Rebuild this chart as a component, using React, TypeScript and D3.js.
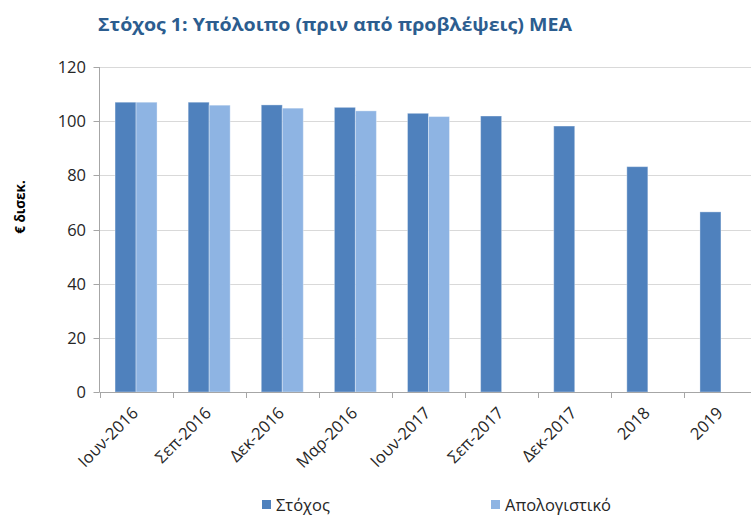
import React from "react";
import * as d3 from "d3";

const categories = ["Ιουν-2016", "Σεπ-2016", "Δεκ-2016", "Μαρ-2016", "Ιουν-2017", "Σεπ-2017", "Δεκ-2017", "2018", "2019"];
const targetValues: (number | null)[] = [107, 107, 106, 105.1, 102.9, 101.9, 98.2, 83.2, 66.5];
const actualValues: (number | null)[] = [107, 105.9, 104.8, 103.8, 101.7, null, null, null, null];
const seriesNames = ["Στόχος", "Απολογιστικό"];
const yTicks = [0, 20, 40, 60, 80, 100, 120];
const colors = ["#4F81BD", "#8EB4E3"];

const W = 751, H = 515;
const left = 99.5, right = 757.5, top = 67, bottom = 392;
const font = "'Open Sans', 'Noto Sans', 'DejaVu Sans', sans-serif";

export default function App() {
  const x = d3.scaleBand<string>().domain(categories).range([left, right]).paddingInner(0).paddingOuter(0);
  const y = d3.scaleLinear().domain([0, 120]).range([bottom, top]);
  const bw = x.bandwidth();
  const barW = 21;
  const series = [targetValues, actualValues];
  return (
    <svg width={W} height={H} style={{ position: "absolute", left: 0, top: 0, background: "#fff" }}>
      <text x={98} y={31} fontFamily={font} fontWeight="bold" fontSize={17} fill="#2C5D8F" textLength={474} lengthAdjust="spacingAndGlyphs">
        Στόχος 1: Υπόλοιπο  (πριν από προβλέψεις)  ΜΕΑ
      </text>
      {yTicks.map((t) => (
        <g key={t}>
          {t > 0 && <line x1={left} x2={W} y1={Math.round(y(t)) + 0.5} y2={Math.round(y(t)) + 0.5} stroke="#D9D9D9" strokeWidth={1} />}
          <line x1={left - 6} x2={left} y1={Math.round(y(t)) + 0.5} y2={Math.round(y(t)) + 0.5} stroke="#A6A6A6" />
          <text x={86} y={y(t) + 6} textAnchor="end" fontFamily={font} fontSize={16.5} fill="#262626">{t}</text>
        </g>
      ))}
      {series.map((vals, si) =>
        categories.map((c, i) => {
          const v = vals[i];
          if (v == null) return null;
          const cx = (x(c) as number) + bw / 2;
          const bx = cx - barW + si * barW;
          return (
            <rect key={si + "-" + c} x={bx} y={y(v)} width={barW} height={bottom - y(v)} fill={colors[si]} stroke="rgba(255,255,255,0.35)" strokeWidth={1} />
          );
        })
      )}
      <line x1={left} x2={left} y1={top} y2={bottom} stroke="#A6A6A6" />
      <line x1={left} x2={W} y1={bottom + 0.5} y2={bottom + 0.5} stroke="#A6A6A6" />
      {categories.map((c) => (
        <line key={"t" + c} x1={Math.round(x(c) as number) + 0.5} x2={Math.round(x(c) as number) + 0.5} y1={bottom} y2={bottom + 6} stroke="#A6A6A6" />
      ))}
      {categories.map((c) => {
        const cx = (x(c) as number) + bw / 2 + 3;
        return (
          <text key={"l" + c} transform={`translate(${cx},${bottom + 22}) rotate(-45)`} textAnchor="end" fontFamily={font} fontSize={16.5} fill="#262626">{c}</text>
        );
      })}
      <text transform={`translate(25,207) rotate(-90)`} textAnchor="middle" fontFamily={font} fontWeight="bold" fontSize={13.5} fill="#000">€ δισεκ.</text>
      {seriesNames.map((n, i) => {
        const lx = i === 0 ? 262 : 491;
        return (
          <g key={n}>
            <rect x={lx} y={500} width={9} height={9} fill={colors[i]} />
            <text x={lx + 14} y={511} fontFamily={font} fontSize={16.5} fill="#262626">{n}</text>
          </g>
        );
      })}
    </svg>
  );
}
